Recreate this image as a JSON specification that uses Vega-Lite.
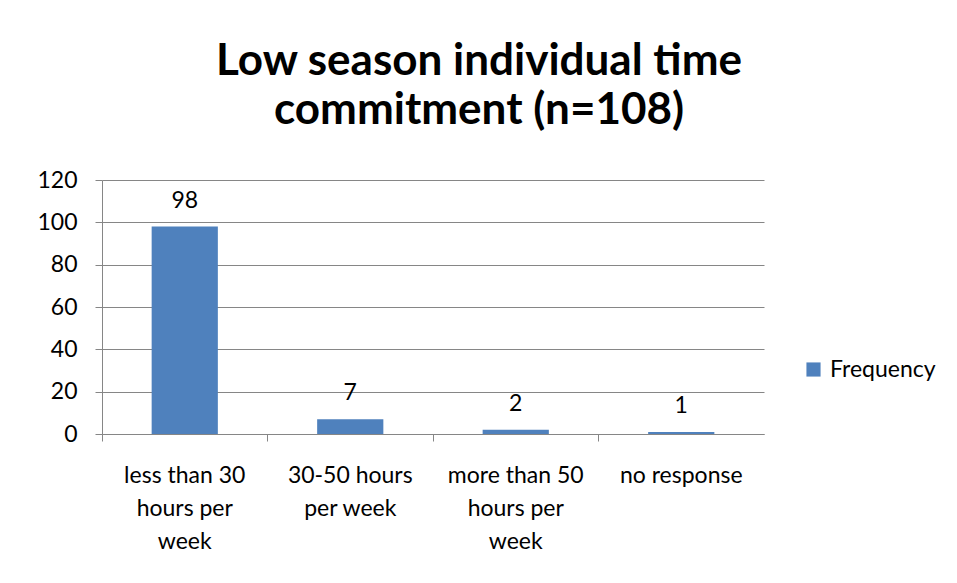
{
  "$schema": "https://vega.github.io/schema/vega-lite/v6.json",
  "width": 662,
  "height": 254,
  "autosize": {"type": "none"},
  "padding": {"left": 102, "top": 180, "right": 193, "bottom": 149},
  "background": "white",
  "title": {
    "text": ["Low season individual time", "commitment (n=108)"],
    "anchor": "middle",
    "dx": 46,
    "font": "Lato",
    "fontSize": 44,
    "fontWeight": "bold",
    "color": "#000000",
    "lineHeight": 49,
    "offset": 36
  },
  "data": {
    "values": [
      {"category": "less than 30 hours per week", "frequency": 98},
      {"category": "30-50 hours per week", "frequency": 7},
      {"category": "more than 50 hours per week", "frequency": 2},
      {"category": "no response", "frequency": 1}
    ]
  },
  "encoding": {
    "x": {
      "field": "category",
      "type": "nominal",
      "sort": null,
      "scale": {"paddingInner": 0.6, "paddingOuter": 0.3},
      "axis": {
        "title": null,
        "labelAngle": 0,
        "bandPosition": -0.75,
        "tickExtra": false,
        "labelFont": "Lato",
        "labelFontSize": 23,
        "labelColor": "#000000",
        "labelLineHeight": 33,
        "labelPadding": 23,
        "labelLimit": 0,
        "domainColor": "#868686",
        "tickColor": "#868686",
        "tickSize": 7,
        "labelExpr": "datum.value == 'less than 30 hours per week' ? ['less than 30', 'hours per', 'week'] : datum.value == '30-50 hours per week' ? ['30-50 hours', 'per week'] : datum.value == 'more than 50 hours per week' ? ['more than 50', 'hours per', 'week'] : datum.value"
      }
    },
    "y": {
      "field": "frequency",
      "type": "quantitative",
      "scale": {"domain": [0, 120]},
      "axis": {
        "title": null,
        "values": [0, 20, 40, 60, 80, 100, 120],
        "grid": true,
        "gridColor": "#868686",
        "domainColor": "#868686",
        "tickColor": "#868686",
        "tickSize": 7,
        "labelFont": "Lato",
        "labelFontSize": 23,
        "labelColor": "#000000",
        "labelPadding": 18
      }
    }
  },
  "layer": [
    {
      "mark": {"type": "bar", "color": "#4F81BD"},
      "encoding": {
        "color": {
          "datum": "Frequency",
          "scale": {"range": ["#4F81BD"]},
          "legend": {
            "title": null,
            "orient": "none",
            "legendX": 700,
            "legendY": 178,
            "symbolType": "square",
            "symbolSize": 200,
            "symbolStrokeWidth": 0,
            "labelFont": "Lato",
            "labelFontSize": 23,
            "labelColor": "#000000",
            "labelOffset": 5
          }
        }
      }
    },
    {
      "mark": {"type": "text", "font": "Lato", "fontSize": 23, "color": "#000000", "baseline": "alphabetic", "dy": -19},
      "encoding": {
        "text": {"field": "frequency", "type": "quantitative"}
      }
    }
  ],
  "config": {
    "view": {"stroke": null}
  }
}
